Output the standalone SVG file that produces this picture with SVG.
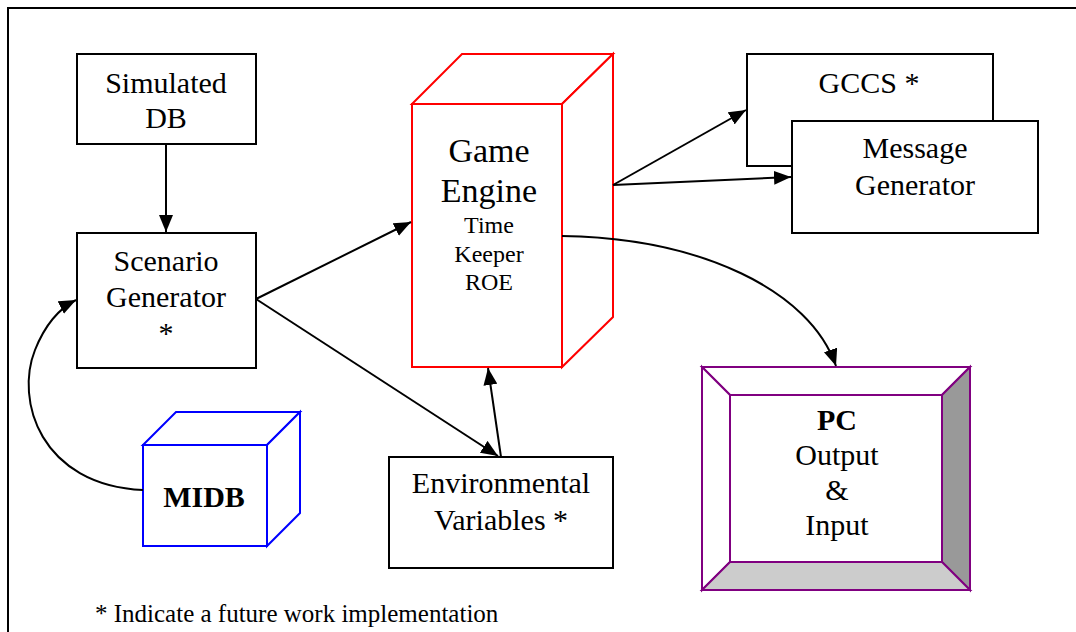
<svg xmlns="http://www.w3.org/2000/svg" width="1076" height="632" viewBox="0 0 1076 632">
<style>
  .t { font-family: "Liberation Serif", "Times New Roman", serif; fill: #000; text-anchor: middle; }
  .m { font-size: 30px; }
  .box { fill: #fff; stroke: #000; stroke-width: 2; }
  .red { fill: #fff; stroke: #ff0000; stroke-width: 2; stroke-linejoin: miter; }
  .blue { fill: #fff; stroke: #0000ff; stroke-width: 2; }
  .pur { stroke: #800080; stroke-width: 2; stroke-linejoin: miter; }
  .conn { fill: none; stroke: #000; stroke-width: 2; marker-end: url(#arr); }
</style>
<defs>
  <marker id="arr" markerUnits="userSpaceOnUse" markerWidth="17" markerHeight="14" refX="17" refY="7" orient="auto">
    <path d="M0,0 L17,7 L0,14 z" fill="#000"/>
  </marker>
</defs>
<rect width="1076" height="632" fill="#fff"/>
<g id="frame">
  <path d="M8,632 L8,8 L1076,8" fill="none" stroke="#000" stroke-width="2"/>
</g>

<g id="simulated-db">
  <rect class="box" x="77" y="54" width="179" height="90"/>
  <text class="t m" x="166" y="93">Simulated</text>
  <text class="t m" x="166" y="128">DB</text>
</g>

<g id="scenario-generator">
  <rect class="box" x="77" y="233" width="179" height="135"/>
  <text class="t m" x="166" y="271">Scenario</text>
  <text class="t m" x="166" y="307">Generator</text>
  <text class="t m" x="166" y="343">*</text>
</g>

<g id="game-engine">
  <path class="red" d="M412,104 L462,54 L613,54 L562,104 Z"/>
  <path class="red" d="M562,104 L613,54 L613,317 L562,367 Z" fill="none"/>
  <rect class="red" x="412" y="104" width="150" height="263"/>
  <text class="t" x="489" y="162" font-size="34">Game</text>
  <text class="t" x="489" y="202" font-size="34">Engine</text>
  <text class="t" x="489" y="233" font-size="24">Time</text>
  <text class="t" x="489" y="262" font-size="24">Keeper</text>
  <text class="t" x="489" y="290" font-size="24">ROE</text>
</g>

<g id="gccs">
  <rect class="box" x="747" y="54" width="246" height="112"/>
  <text class="t m" x="869" y="93">GCCS *</text>
</g>

<g id="message-generator">
  <rect class="box" x="792" y="121" width="246" height="112"/>
  <text class="t m" x="915" y="158">Message</text>
  <text class="t m" x="915" y="195">Generator</text>
</g>

<g id="environmental-variables">
  <rect class="box" x="389" y="457" width="224" height="111"/>
  <text class="t m" x="501" y="493">Environmental</text>
  <text class="t m" x="501" y="530">Variables *</text>
</g>

<g id="midb">
  <path class="blue" d="M143,445 L176,412 L300,412 L267,445 Z"/>
  <path class="blue" d="M267,445 L300,412 L300,513 L267,546 Z"/>
  <rect class="blue" x="143" y="445" width="124" height="101"/>
  <text class="t m" x="204" y="507" font-weight="bold">MIDB</text>
</g>

<g id="pc">
  <path class="pur" fill="#fff" d="M702,367 L970,367 L942,395 L730,395 Z"/>
  <path class="pur" fill="#fff" d="M702,367 L730,395 L730,562 L702,590 Z"/>
  <path class="pur" fill="#999999" d="M970,367 L970,590 L942,562 L942,395 Z"/>
  <path class="pur" fill="#cccccc" d="M702,590 L730,562 L942,562 L970,590 Z"/>
  <rect class="pur" fill="#fff" x="730" y="395" width="212" height="167"/>
  <text class="t m" x="837" y="430" font-weight="bold">PC</text>
  <text class="t m" x="837" y="465">Output</text>
  <text class="t m" x="837" y="500">&amp;</text>
  <text class="t m" x="837" y="535">Input</text>
</g>

<g id="connectors">
  <path class="conn" d="M166,144 L166,232"/>
  <path class="conn" d="M256,299 L411,222"/>
  <path class="conn" d="M256,299 L498,456"/>
  <path class="conn" d="M501,457 L488,368"/>
  <path class="conn" d="M613,185 L746,110"/>
  <path class="conn" d="M613,185 L791,177"/>
  <path class="conn" d="M562,236 C700,238 810,290 836,366"/>
  <path class="conn" d="M143,490 C40,485 15,400 35,350 C45,325 60,308 76,300"/>
</g>

<g id="footnote">
  <text x="95" y="622" font-size="25" font-family="Liberation Serif, Times New Roman, serif" fill="#000">* Indicate a future work implementation</text>
</g>
</svg>
